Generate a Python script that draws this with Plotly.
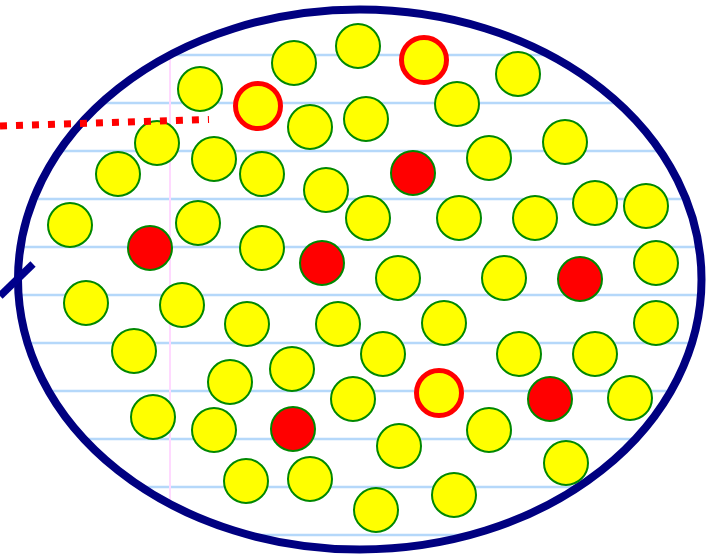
import numpy as np
import plotly.graph_objects as go

# ---- data (pixel-space positions) ----
yellow_x = [294, 358, 518, 200, 457, 310, 366, 157, 214, 565, 118, 262, 489, 326,
            70, 198, 368, 459, 535, 595, 646, 262, 398, 504, 656, 86, 182, 247,
            338, 444, 656, 134, 383, 519, 595, 230, 292, 353, 630, 153, 214, 489,
            399, 566, 246, 310, 454, 376]
yellow_y = [63, 46, 74, 89, 104, 127, 119, 143, 159, 142, 174, 174, 158, 190,
            225, 223, 218, 218, 218, 203, 206, 248, 278, 278, 263, 303, 305, 324,
            324, 323, 323, 351, 354, 354, 354, 382, 369, 399, 398, 417, 430, 430,
            446, 463, 481, 479, 495, 510]

ringed_x = [258, 424, 439]
ringed_y = [106, 60, 393]

red_x = [413, 150, 322, 580, 550, 293]
red_y = [173, 248, 263, 279, 399, 429]

dotted_x = [0, 209]
dotted_y = [126, 119.5]

stroke_x = [0, 33]
stroke_y = [296, 264]

paper_rule_y = [55, 103, 151, 199, 247, 295, 343, 391, 439, 487, 535]
margin_rule_x = 170

# ellipse geometry
cx, cy, rx, ry = 359.75, 279.5, 341.75, 270

W, H = 713, 557
fig = go.Figure()

shapes = []
# notebook rules clipped to ellipse interior
for y in paper_rule_y:
    t = 1 - ((y - cy) / ry) ** 2
    if t <= 0:
        continue
    hw = rx * np.sqrt(t)
    shapes.append(dict(type="line", xref="x", yref="y", x0=cx - hw, x1=cx + hw,
                       y0=y, y1=y, layer="below",
                       line=dict(color="#b5d8fa", width=2.5)))
t = 1 - ((margin_rule_x - cx) / rx) ** 2
hh = ry * np.sqrt(t)
shapes.append(dict(type="line", xref="x", yref="y", x0=margin_rule_x, x1=margin_rule_x,
                   y0=cy - hh, y1=cy + hh, layer="below",
                   line=dict(color="#ffd9ff", width=2)))
shapes.append(dict(type="circle", xref="x", yref="y", x0=cx - rx, x1=cx + rx,
                   y0=cy - ry, y1=cy + ry, layer="below",
                   line=dict(color="#000080", width=8)))

fig.add_trace(go.Scatter(x=yellow_x, y=yellow_y, mode="markers",
                         marker=dict(size=44, color="#ffff00",
                                     line=dict(color="#008800", width=2)),
                         hoverinfo="skip"))
fig.add_trace(go.Scatter(x=ringed_x, y=ringed_y, mode="markers",
                         marker=dict(size=45, color="#ffff00",
                                     line=dict(color="#ff0000", width=5)),
                         hoverinfo="skip"))
fig.add_trace(go.Scatter(x=red_x, y=red_y, mode="markers",
                         marker=dict(size=44, color="#ff0000",
                                     line=dict(color="#008800", width=2)),
                         hoverinfo="skip"))
fig.add_trace(go.Scatter(x=dotted_x, y=dotted_y, mode="lines",
                         line=dict(color="#ff0000", width=7, dash="7px,9px"),
                         hoverinfo="skip"))
fig.add_trace(go.Scatter(x=stroke_x, y=stroke_y, mode="lines",
                         line=dict(color="#00008c", width=7.5),
                         hoverinfo="skip"))

fig.update_layout(
    width=W, height=H, margin=dict(l=0, r=0, t=0, b=0),
    paper_bgcolor="white", plot_bgcolor="white", showlegend=False,
    shapes=shapes,
    xaxis=dict(range=[0, W], visible=False, fixedrange=True),
    yaxis=dict(range=[H, 0], visible=False, fixedrange=True),
)
fig.write_html("out.html", config={"displayModeBar": False},
               post_script="document.body.style.margin='0';document.body.style.overflow='hidden';")
